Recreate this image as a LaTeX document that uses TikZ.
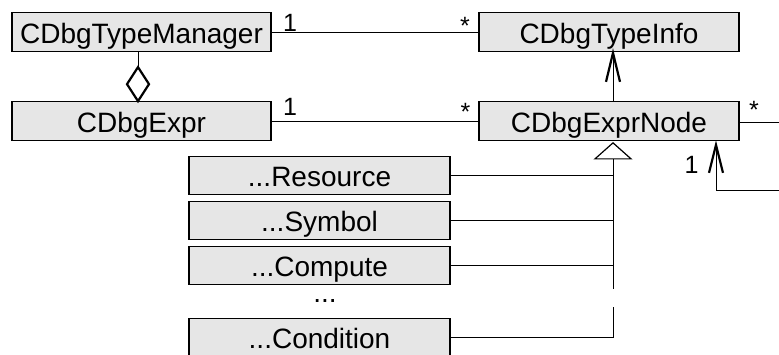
\documentclass[tikz,border=0pt]{standalone}
\usepackage{fontspec}
\setmainfont{Liberation Sans}
\usetikzlibrary{calc}
\definecolor{boxfill}{HTML}{E6E6E6}
\begin{document}
\begin{tikzpicture}[x=1pt,y=-1pt,
  umlbox/.style={draw=black, line width=1.2pt, fill=boxfill, rectangle,
    inner sep=0pt, minimum height=38.5pt,
    font=\fontsize{28}{32}\selectfont, text height=22pt, text depth=0pt},
  link/.style={draw=black, line width=1pt},
  mult/.style={font=\fontsize{25}{30}\selectfont, inner sep=0pt, anchor=base},
  thickhead/.style={draw=black, line width=2.2pt, line join=miter},
  openhead/.style={draw=black, line width=1.2pt, fill=white, line join=miter}
]
\clip (0,0) rectangle (779,354);

% classes
\node[umlbox, minimum width=259pt] (mgr)   at (141.5,32)    {CDbgTypeManager};
\node[umlbox, minimum width=259pt] (expr)  at (141.5,121)   {CDbgExpr};
\node[umlbox, minimum width=260pt] (tinfo) at (609,32)      {CDbgTypeInfo};
\node[umlbox, minimum width=260pt] (enode) at (609,121)     {CDbgExprNode};
\node[umlbox, minimum width=261pt] (res)   at (319.5,175.5) {...Resource};
\node[umlbox, minimum width=261pt] (sym)   at (319.5,220.5) {...Symbol};
\node[umlbox, minimum width=261pt] (comp)  at (319.5,265.5) {...Compute};
\node[umlbox, minimum width=261pt] (cond)  at (319.5,337.5) {...Condition};
\node[font=\fontsize{28}{32}\selectfont, inner sep=0pt, anchor=base] (more) at (325,302) {...};

% helper positions
\coordinate (spine) at (613,0);
\coordinate (selfx) at (716,0);
\coordinate (dx)    at (138,0);
\coordinate (gapTop) at (613,289);
\coordinate (gapBot) at (613,307);
\coordinate (edgeA) at (779,122);
\coordinate (edgeB) at (779,190);

% associations
\draw[link] (mgr.east) -- (tinfo.west);
\draw[link] (expr.east) -- (enode.west);
\draw[link] (enode.east |- edgeA) -- (edgeA);

% aggregation CDbgTypeManager <>-- CDbgExpr
\coordinate (dbot) at (expr.north -| dx);
\draw[link] (mgr.south -| dx) -- ($(dbot)+(0,-34)$);
\draw[thickhead, fill=white] (dbot) -- ($(dbot)+(-11,-17)$) -- ($(dbot)+(0,-34)$)
  -- ($(dbot)+(11,-17)$) -- cycle;

% navigable association CDbgExprNode --> CDbgTypeInfo
\coordinate (tiTip) at ($(tinfo.south -| spine)+(0,1)$);
\draw[link] (enode.north -| spine) -- (tiTip);
\draw[thickhead] ($(tiTip)+(-7,29)$) -- (tiTip) -- ($(tiTip)+(7,29)$);

% self association on CDbgExprNode
\coordinate (selfTip) at ($(enode.south -| selfx)+(0,4)$);
\draw[link] (edgeB) -| (selfTip);
\draw[thickhead] ($(selfTip)+(-7,28)$) -- (selfTip) -- ($(selfTip)+(7,28)$);

% generalization
\coordinate (genTip) at ($(enode.south -| spine)+(0,2)$);
\draw[link] ($(genTip)+(0,16)$) -- (gapTop);
\draw[link] (gapBot) -- (cond.east -| spine);
\foreach \c in {res,sym,comp,cond}
  \draw[link] (\c.east) -- (\c.east -| spine);
\draw[openhead] (genTip) -- ($(genTip)+(-18,16)$) -- ($(genTip)+(18,16)$) -- cycle;

% multiplicities
\node[mult] (m1) at (290,31)      {1};
\node[mult] (m2) at (465,34.6)    {*};
\node[mult] (m3) at (290,115.5)   {1};
\node[mult] (m4) at (465.5,120.6) {*};
\node[mult] (m5) at (754,118.6)   {*};
\node[mult] (m6) at (691.5,173)   {1};
\end{tikzpicture}
\end{document}
